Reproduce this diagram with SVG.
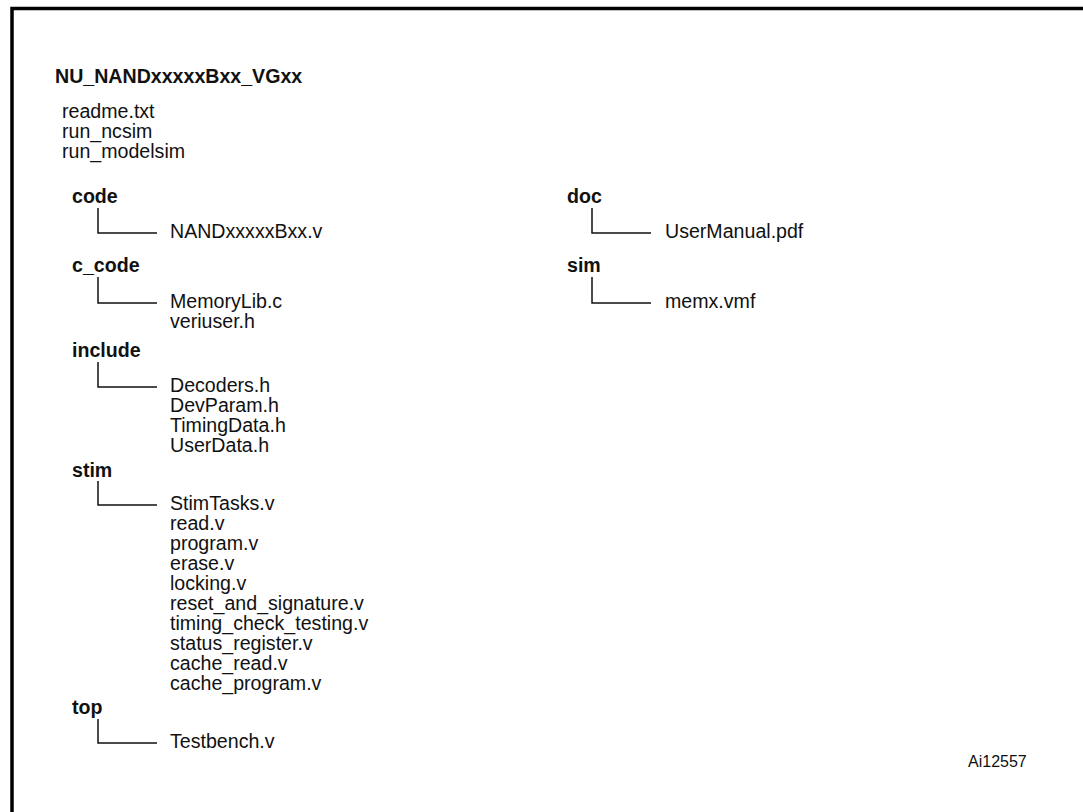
<svg xmlns="http://www.w3.org/2000/svg" width="1083" height="812" viewBox="0 0 1083 812">
<style>
text{font-family:"Liberation Sans",Arial,sans-serif;font-size:19.6px;fill:#111}
.b{font-weight:bold}
.c{fill:none;stroke:#111;stroke-width:1.5}
</style>
<rect width="1083" height="812" fill="#fff"/>
<path d="M12,812 V8.5 H1083" fill="none" stroke="#000" stroke-width="3.5"/>
<g id="root">
<text class="b" x="55" y="83">NU_NANDxxxxxBxx_VGxx</text>
<text x="62" y="118">readme.txt</text>
<text x="62" y="138">run_ncsim</text>
<text x="62" y="158">run_modelsim</text>
</g>
<g id="code"><text class="b" x="72" y="203">code</text><text x="170" y="238">NANDxxxxxBxx.v</text></g>
<g id="c_code"><text class="b" x="72" y="272">c_code</text><text x="170" y="308">MemoryLib.c</text><text x="170" y="328">veriuser.h</text></g>
<g id="include"><text class="b" x="72" y="357">include</text><text x="170" y="392">Decoders.h</text><text x="170" y="412">DevParam.h</text><text x="170" y="432">TimingData.h</text><text x="170" y="452">UserData.h</text></g>
<g id="stim"><text class="b" x="72" y="477">stim</text>
<text x="170" y="510">StimTasks.v</text><text x="170" y="530">read.v</text><text x="170" y="550">program.v</text><text x="170" y="570">erase.v</text><text x="170" y="590">locking.v</text><text x="170" y="610">reset_and_signature.v</text><text x="170" y="630">timing_check_testing.v</text><text x="170" y="650">status_register.v</text><text x="170" y="670">cache_read.v</text><text x="170" y="690">cache_program.v</text></g>
<g id="top"><text class="b" x="72" y="714">top</text><text x="170" y="748">Testbench.v</text></g>
<g id="doc"><text class="b" x="567" y="203">doc</text><text x="665" y="238">UserManual.pdf</text></g>
<g id="sim"><text class="b" x="567" y="272">sim</text><text x="665" y="308">memx.vmf</text></g>
<g id="ref"><text x="968" y="767" style="font-size:16px">Ai12557</text></g>
<g id="connectors">
<path class="c" d="M98,208 V233 H157"/>
<path class="c" d="M98,277 V303 H157"/>
<path class="c" d="M98,362 V387 H157"/>
<path class="c" d="M98,481 V505 H157"/>
<path class="c" d="M98,719 V743 H157"/>
<path class="c" d="M592,208 V233 H651"/>
<path class="c" d="M592,277 V303 H651"/>
</g>
</svg>
